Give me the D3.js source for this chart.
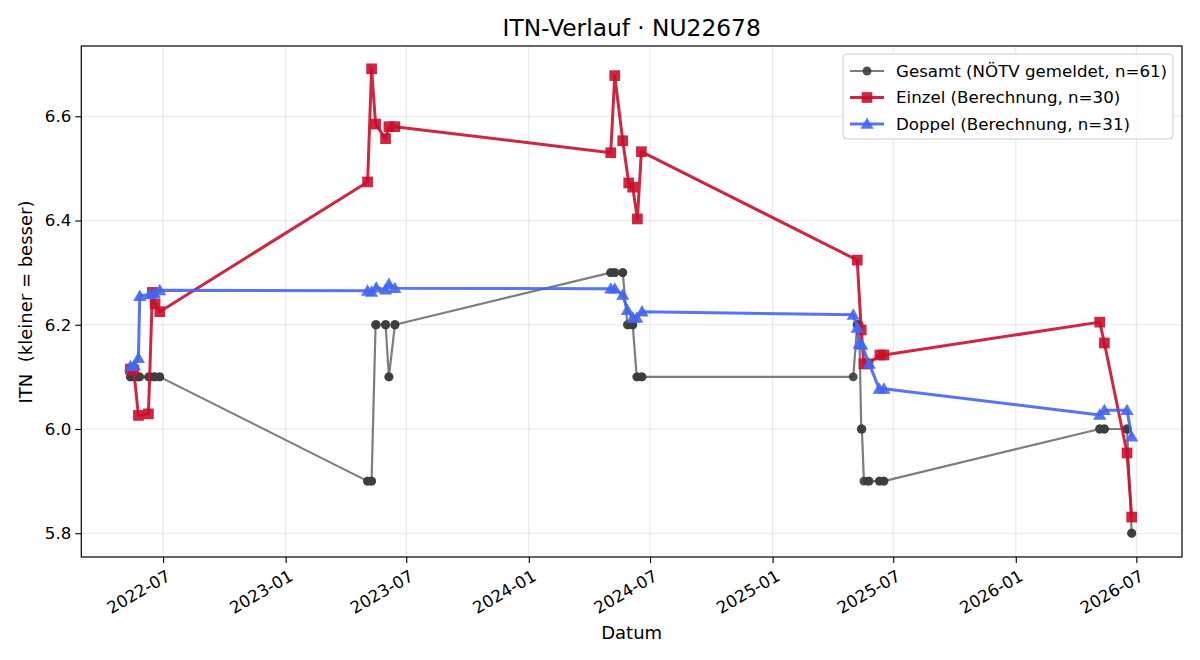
<!DOCTYPE html>
<html><head><meta charset="utf-8">
<script src="https://cdn.jsdelivr.net/npm/d3@7"></script>
<style>body{margin:0;background:#fff}svg{font-family:"DejaVu Sans",sans-serif}</style>
</head><body><svg id="c" width="1200" height="660"></svg>
<script>
const einzelDates = ["2022-05-13","2022-05-18","2022-05-25","2022-06-09","2022-06-15","2022-06-19","2022-06-26",
 "2023-05-04","2023-05-10","2023-05-16","2023-05-31","2023-06-05","2023-06-14",
 "2024-05-03","2024-05-09","2024-05-21","2024-05-30","2024-06-05","2024-06-12","2024-06-18",
 "2025-05-08","2025-05-14","2025-05-18","2025-05-24","2025-06-11","2025-06-17",
 "2026-05-07","2026-05-14","2026-06-17","2026-06-24"];
const einzelValues = [6.115,6.113,6.026,6.029,6.262,6.240,6.225,
 6.474,6.691,6.585,6.557,6.580,6.580,
 6.530,6.678,6.553,6.472,6.464,6.403,6.532,
 6.324,6.190,6.125,6.125,6.142,6.142,
 6.205,6.165,5.954,5.831];
const doppelDates = ["2022-05-13","2022-05-19","2022-05-25","2022-05-27","2022-06-11","2022-06-18","2022-06-26",
 "2023-05-04","2023-05-10","2023-05-17","2023-05-31","2023-06-05","2023-06-14",
 "2024-05-03","2024-05-09","2024-05-21","2024-05-28","2024-06-05","2024-06-11","2024-06-19",
 "2025-05-02","2025-05-08","2025-05-11","2025-05-15","2025-05-26","2025-06-10","2025-06-17",
 "2026-05-07","2026-05-14","2026-06-17","2026-06-24"];
const doppelValues = [6.120,6.122,6.136,6.255,6.258,6.260,6.266,
 6.265,6.263,6.271,6.267,6.278,6.270,
 6.269,6.269,6.257,6.228,6.213,6.213,6.225,
 6.219,6.194,6.163,6.161,6.125,6.077,6.077,
 6.027,6.036,6.036,5.985];
const gesamtDates = ["2022-05-13","2022-05-13","2022-05-18","2022-05-19","2022-05-25","2022-05-25","2022-05-27","2022-06-09","2022-06-11","2022-06-15","2022-06-18","2022-06-19","2022-06-26","2022-06-26",
 "2023-05-04","2023-05-04","2023-05-10","2023-05-10","2023-05-16","2023-05-17","2023-05-31","2023-05-31","2023-06-05","2023-06-05","2023-06-14","2023-06-14",
 "2024-05-03","2024-05-03","2024-05-09","2024-05-09","2024-05-21","2024-05-21","2024-05-28","2024-05-30","2024-06-05","2024-06-05","2024-06-11","2024-06-12","2024-06-18","2024-06-19",
 "2025-05-02","2025-05-08","2025-05-08","2025-05-11","2025-05-14","2025-05-15","2025-05-18","2025-05-24","2025-05-26","2025-06-10","2025-06-11","2025-06-17","2025-06-17",
 "2026-05-07","2026-05-07","2026-05-14","2026-05-14","2026-06-17","2026-06-17","2026-06-24","2026-06-24"];
const gesamtValues = [6.1,6.1,6.1,6.1,6.1,6.1,6.1,6.1,6.1,6.1,6.1,6.1,6.1,6.1,
 5.9,5.9,5.9,5.9,6.2,6.2,6.2,6.2,6.1,6.1,6.2,6.2,
 6.3,6.3,6.3,6.3,6.3,6.3,6.2,6.2,6.2,6.2,6.1,6.1,6.1,6.1,
 6.1,6.2,6.2,6.2,6.0,6.0,5.9,5.9,5.9,5.9,5.9,5.9,5.9,
 6.0,6.0,6.0,6.0,6.0,6.0,5.8,5.8];
const xTickLabels = ["2022-07","2023-01","2023-07","2024-01","2024-07","2025-01","2025-07","2026-01","2026-07"];
const yTickValues = [5.8,6.0,6.2,6.4,6.6];
const legendLabels = ["Gesamt (NÖTV gemeldet, n=61)","Einzel (Berechnung, n=30)","Doppel (Berechnung, n=31)"];

const svg = d3.select("#c");
const L=81.3, R=1182, T=46, B=557;
const FS = 16.67;
const parse = d3.utcParse("%Y-%m-%d");
const x = d3.scaleUtc().domain([new Date(Date.UTC(2022,1,28,6)), new Date(Date.UTC(2026,8,7,12))]).range([L,R]);
const y = d3.scaleLinear().domain([5.7544,6.7348]).range([B,T]);

// grid
const xt = xTickLabels.map(s=>parse(s+"-01"));
svg.append("g").selectAll("line").data(xt).join("line")
  .attr("x1",d=>x(d)).attr("x2",d=>x(d)).attr("y1",T).attr("y2",B)
  .attr("stroke","#b0b0b0").attr("stroke-opacity",0.3).attr("stroke-width",1.1);
svg.append("g").selectAll("line").data(yTickValues).join("line")
  .attr("x1",L).attr("x2",R).attr("y1",d=>y(d)).attr("y2",d=>y(d))
  .attr("stroke","#b0b0b0").attr("stroke-opacity",0.3).attr("stroke-width",1.1);

const series = [
  {dates:gesamtDates, vals:gesamtValues, line:"#6f6f6f", fill:"#3d3d3d", lw:2.2, lop:0.9, mark:"circle"},
  {dates:einzelDates, vals:einzelValues, line:"#c8102e", fill:"#c8102e", lw:3, lop:0.9, mark:"square"},
  {dates:doppelDates, vals:doppelValues, line:"#4466f0", fill:"#4466f0", lw:3, lop:0.9, mark:"triangle"}
];
const symMap = {circle:d3.symbolCircle, square:d3.symbolSquare, triangle:d3.symbolTriangle};
const symSize = {circle:62, square:115, triangle:75};

const line = d3.line().x(d=>x(d.d)).y(d=>y(d.v));
series.forEach(s=>{
  const pts = s.dates.map((d,i)=>({d:parse(d), v:s.vals[i]}));
  const g = svg.append("g");
  g.append("path").attr("d",line(pts)).attr("fill","none").attr("stroke",s.line)
    .attr("stroke-width",s.lw).attr("stroke-opacity",s.lop).attr("stroke-linejoin","round");
  g.selectAll("path.m").data(pts).join("path").attr("class","m")
    .attr("transform",d=>`translate(${x(d.d)},${y(d.v)+(s.mark==="triangle"?1:0)})`)
    .attr("d",d3.symbol().type(symMap[s.mark]).size(symSize[s.mark]))
    .attr("fill",s.fill).attr("fill-opacity",0.9);
});

// axes frame
svg.append("rect").attr("x",L).attr("y",T).attr("width",R-L).attr("height",B-T)
  .attr("fill","none").attr("stroke","#000").attr("stroke-width",1.2);

const xAxis = svg.append("g").attr("transform",`translate(0,${B})`)
  .call(d3.axisBottom(x).tickValues(xt).tickFormat((d,i)=>xTickLabels[i]).tickSize(6).tickSizeOuter(0));
xAxis.select(".domain").remove();
xAxis.attr("font-size",null).attr("font-family",null);
xAxis.selectAll("text").style("font-size",FS+"px").attr("fill","#000")
  .attr("text-anchor","end").attr("dy",null).attr("y",0)
  .attr("transform","translate(2,12) rotate(-30)").attr("dominant-baseline","hanging");
xAxis.selectAll("line").attr("stroke","#000").attr("stroke-width",1.1);

const yAxis = svg.append("g").attr("transform",`translate(${L},0)`)
  .call(d3.axisLeft(y).tickValues(yTickValues).tickFormat(d3.format(".1f")).tickSize(6).tickSizeOuter(0));
yAxis.select(".domain").remove();
yAxis.attr("font-size",null).attr("font-family",null);
yAxis.selectAll("text").style("font-size",FS+"px").attr("fill","#000").attr("x",-10);
yAxis.selectAll("line").attr("stroke","#000").attr("stroke-width",1.1);

svg.append("text").attr("x",(L+R)/2).attr("y",36).attr("text-anchor","middle")
  .style("font-size","23.3px").text("ITN-Verlauf · NU22678");
svg.append("text").attr("x",(L+R)/2).attr("y",639).attr("text-anchor","middle")
  .style("font-size","18px").text("Datum");
svg.append("text").attr("transform","translate(32,302) rotate(-90)").attr("text-anchor","middle")
  .style("font-size","18px").style("white-space","pre").text("ITN  (kleiner = besser)");

// legend
const lg = svg.append("g");
lg.append("rect").attr("x",843).attr("y",54).attr("width",330).attr("height",85).attr("rx",4)
  .attr("fill","#fff").attr("fill-opacity",0.8).attr("stroke","#cccccc");
series.forEach((s,i)=>{
  const yy = 71 + i*26.5;
  lg.append("line").attr("x1",850).attr("x2",884).attr("y1",yy).attr("y2",yy)
    .attr("stroke",s.line).attr("stroke-width",s.lw).attr("stroke-opacity",s.lop);
  lg.append("path").attr("transform",`translate(867,${yy+(s.mark==="triangle"?1:0)})`)
    .attr("d",d3.symbol().type(symMap[s.mark]).size(symSize[s.mark])).attr("fill",s.fill).attr("fill-opacity",0.9);
  lg.append("text").attr("x",896).attr("y",yy).attr("dy","0.35em").style("font-size",FS+"px").text(legendLabels[i]);
});
</script></body></html>
